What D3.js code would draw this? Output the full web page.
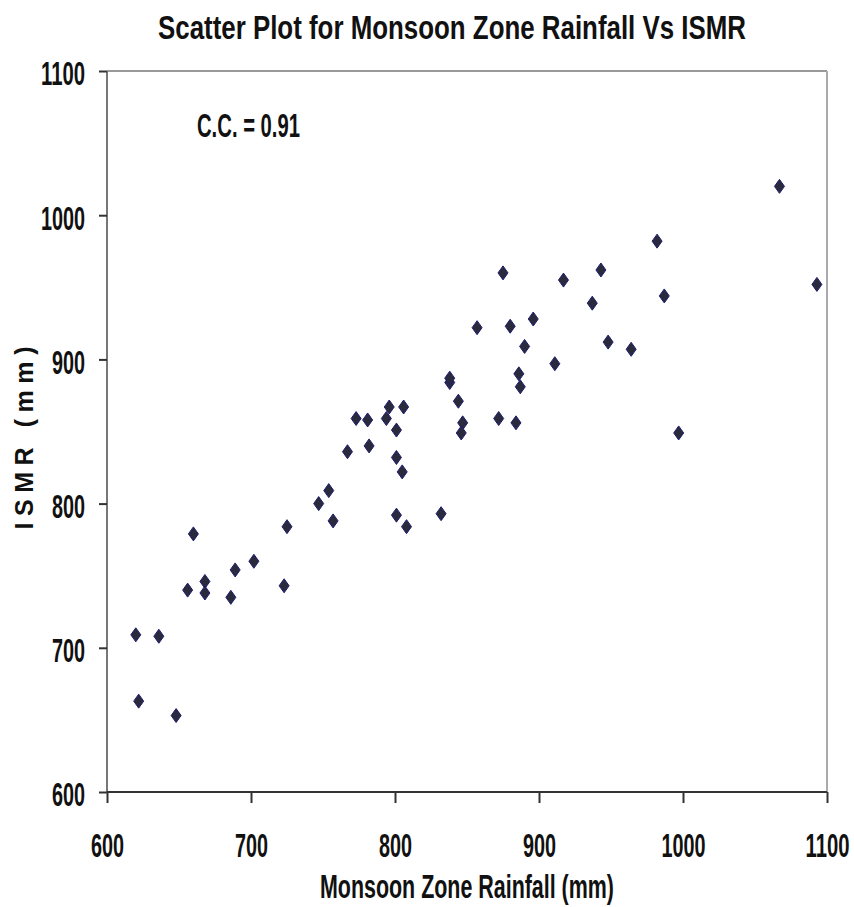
<!DOCTYPE html>
<html>
<head>
<meta charset="utf-8">
<script src="https://cdn.jsdelivr.net/npm/d3@7"></script>
<style>
  body { margin: 0; background: #fff; }
  .narrow { font-family: 'Liberation Sans Narrow', 'Arial Narrow', 'Liberation Sans', Arial, sans-serif; font-weight: bold; fill: #111; }
</style>
</head>
<body>
<div class="chart"></div>
<script>
// monsoon zone rainfall (mm) vs ISMR (mm)
const rainfall = [620, 636, 622, 648, 656, 660, 668, 668, 686, 689, 702, 723, 725, 747, 754, 757,
    767, 773, 781, 782, 794, 796, 801, 801, 805, 806, 801, 808, 832, 838, 838, 844, 847, 846,
    857, 872, 875, 880, 884, 886, 887, 890, 896, 911, 917, 937, 943, 948, 964, 982, 987, 997,
    1067, 1093];
const ismr = [709, 708, 663, 653, 740, 779, 746, 738, 735, 754, 760, 743, 784, 800, 809, 788,
    836, 859, 858, 840, 859, 867, 851, 832, 822, 867, 792, 784, 793, 884, 887, 871, 856, 849,
    922, 859, 960, 923, 856, 890, 881, 909, 928, 897, 955, 939, 962, 912, 907, 982, 944, 849,
    1020, 952];
const xTicks = [600, 700, 800, 900, 1000, 1100];
const yTicks = [600, 700, 800, 900, 1000, 1100];
const ccLabel = 'C.C. = 0.91';

const margin = {top: 71, right: 27, bottom: 115, left: 107};
const W = 854, H = 907;
const width = W - margin.left - margin.right;
const height = H - margin.top - margin.bottom;

const svg = d3.select('.chart').append('svg')
    .attr('width', W)
    .attr('height', H);

const g = svg.append('g')
    .attr('transform', 'translate(' + margin.left + ',' + margin.top + ')');

const xScale = d3.scaleLinear().domain([600, 1100]).range([0, width]);
const yScale = d3.scaleLinear().domain([600, 1100]).range([height, 0]);

//frame: top and right in light grey
g.append('line').attr('x1', 0).attr('x2', width).attr('y1', 0).attr('y2', 0)
    .attr('stroke', '#999').attr('stroke-width', 2);
g.append('line').attr('x1', width).attr('x2', width).attr('y1', 0).attr('y2', height)
    .attr('stroke', '#aaa').attr('stroke-width', 2);

//axes
const xAxis = d3.axisBottom(xScale).tickValues(xTicks).tickSize(11).tickFormat(d3.format('d'));
const yAxis = d3.axisLeft(yScale).tickValues(yTicks).tickSize(8).tickPadding(14).tickFormat(d3.format('d'));

const gy = g.append('g').attr('class', 'axis y-axis').call(yAxis);
gy.select('.domain').attr('stroke', '#777').attr('stroke-width', 2).attr('d', 'M0,0V' + height);
gy.selectAll('.tick line').attr('stroke', '#333').attr('stroke-width', 2);
gy.selectAll('.tick text')
    .attr('class', 'narrow')
    .attr('font-size', 34)
    .attr('dy', '0.41em')
    .attr('textLength', d => String(d).length * 11)
    .attr('lengthAdjust', 'spacingAndGlyphs');

const gx = g.append('g').attr('class', 'axis x-axis')
    .attr('transform', 'translate(0,' + height + ')')
    .call(xAxis);
gx.select('.domain').attr('stroke', '#333').attr('stroke-width', 2).attr('d', 'M0,0H' + width);
gx.selectAll('.tick line').attr('stroke', '#333').attr('stroke-width', 2);
gx.selectAll('.tick text')
    .attr('class', 'narrow')
    .attr('font-size', 34)
    .attr('y', 65)
    .attr('dy', 0)
    .attr('textLength', d => String(d).length * 11)
    .attr('lengthAdjust', 'spacingAndGlyphs');

//points as diamonds
g.selectAll('.pt')
    .data(rainfall.map((r, i) => ({r: r, s: ismr[i]})))
    .enter()
    .append('path')
    .attr('class', 'pt')
    .attr('d', 'M0,-7L5,0L0,7L-5,0Z')
    .attr('transform', d => 'translate(' + xScale(d.r) + ',' + yScale(d.s) + ')')
    .attr('fill', '#2a2a3c')
    .attr('stroke', '#1e1e70')
    .attr('stroke-width', 1);

//texts
svg.append('text')
    .attr('class', 'narrow')
    .attr('x', 452).attr('y', 39)
    .attr('text-anchor', 'middle')
    .attr('font-size', 34)
    .attr('textLength', 588)
    .attr('lengthAdjust', 'spacingAndGlyphs')
    .text('Scatter Plot for Monsoon Zone Rainfall Vs ISMR');

svg.append('text')
    .attr('class', 'narrow')
    .attr('x', 197).attr('y', 137)
    .attr('font-size', 33)
    .attr('textLength', 103)
    .attr('lengthAdjust', 'spacingAndGlyphs')
    .text(ccLabel);

svg.append('text')
    .attr('class', 'narrow')
    .attr('x', margin.left + width / 2).attr('y', 898)
    .attr('text-anchor', 'middle')
    .attr('font-size', 33)
    .attr('textLength', 294)
    .attr('lengthAdjust', 'spacingAndGlyphs')
    .text('Monsoon Zone Rainfall (mm)');

svg.append('text')
    .attr('transform', 'translate(33,438) rotate(-90)')
    .attr('text-anchor', 'middle')
    .attr('font-family', 'Liberation Sans, Arial, sans-serif')
    .attr('font-weight', 'bold')
    .attr('font-size', 25)
    .attr('fill', '#111')
    .attr('textLength', 183)
    .attr('lengthAdjust', 'spacing')
    .text('ISMR (mm)');
</script>
</body>
</html>
